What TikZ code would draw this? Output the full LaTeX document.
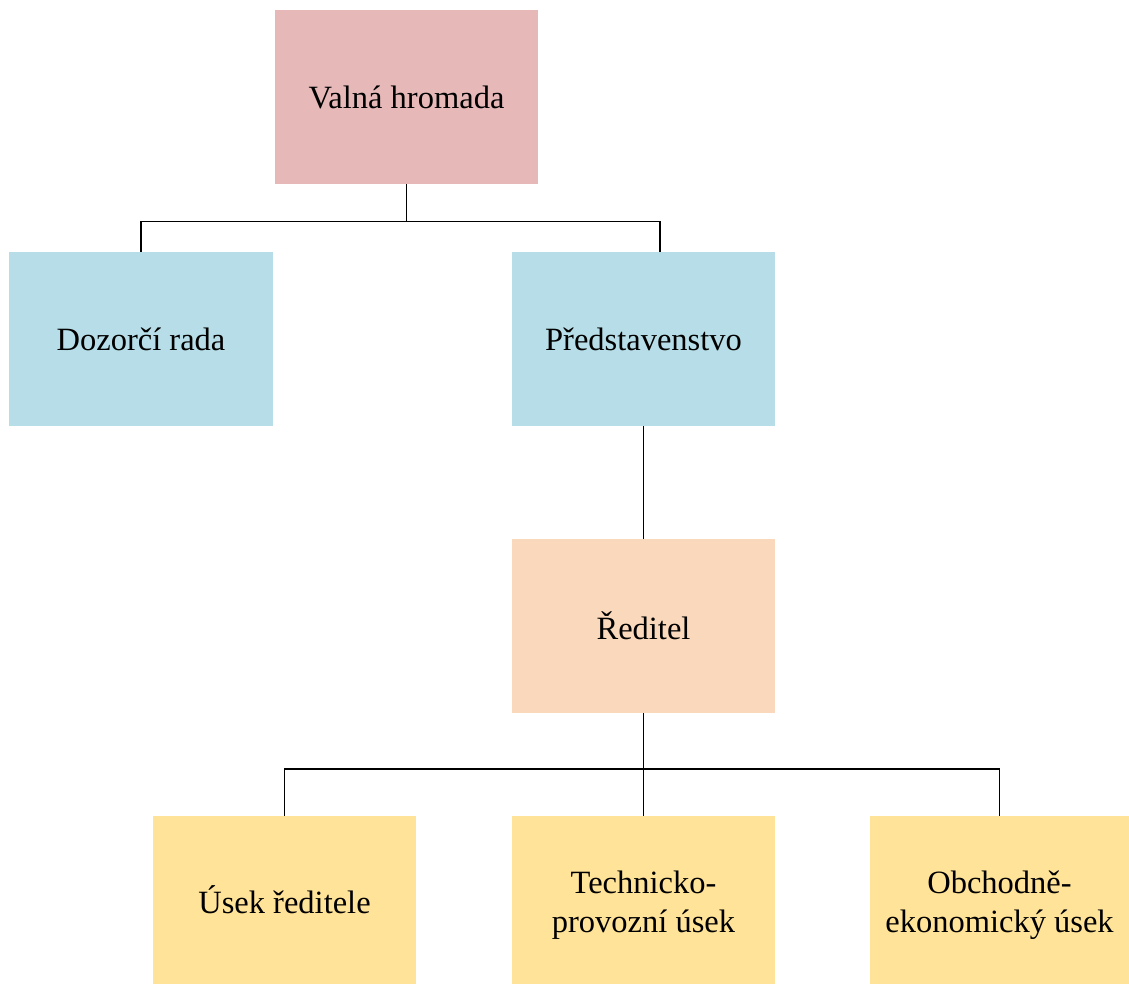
\documentclass[tikz,border=0pt]{standalone}
\usepackage{fontspec}
\setmainfont{Liberation Serif}
\usetikzlibrary{calc}
\definecolor{cpink}{HTML}{E6B9B8}
\definecolor{cblue}{HTML}{B7DEE8}
\definecolor{cpeach}{HTML}{FAD8BC}
\definecolor{cyellow}{HTML}{FFE399}
\tikzset{
  orgbox/.style={rectangle, inner sep=0pt, minimum width=263pt, minimum height=174pt,
    align=center, font=\fontsize{32.5pt}{39pt}\selectfont},
  conn/.style={draw=black, line width=1.9pt}
}
\begin{document}
\begin{tikzpicture}[x=1pt,y=-1pt]
\useasboundingbox (0,0) rectangle (1129,984);
\node[orgbox, fill=cpink] (vh) at (406.5,97) {Valná hromada};
\node[orgbox, fill=cblue, minimum width=264pt] (dr) at (141,339) {Dozorčí rada};
\node[orgbox, fill=cblue] (pr) at (643.5,339) {Představenstvo};
\node[orgbox, fill=cpeach] (red) at (643.5,626) {Ředitel};
\node[orgbox, fill=cyellow, minimum height=168pt] (u1) at (284.5,900) {Úsek ředitele};
\node[orgbox, fill=cyellow, minimum height=168pt] (u2) at (643.5,900) {\rule{0pt}{32pt}Technicko-\\provozní úsek};
\node[orgbox, fill=cyellow, minimum height=168pt, minimum width=259pt] (u3) at (999.5,900) {\rule{0pt}{32pt}Obchodně-\\ekonomický úsek};
\coordinate (b1) at (406.5,221.5);
\coordinate (prt) at ($(pr.north)+(16.5,0)$);
\coordinate (b2) at (643.5,769);
\draw[conn] (vh.south) -- (b1);
\draw[conn] (dr.north) |- (b1) -| (prt);
\draw[conn] (pr.south) -- (red.north);
\draw[conn] (red.south) -- (u2.north);
\draw[conn] (u1.north) |- (b2) -| (u3.north);
\end{tikzpicture}
\end{document}
